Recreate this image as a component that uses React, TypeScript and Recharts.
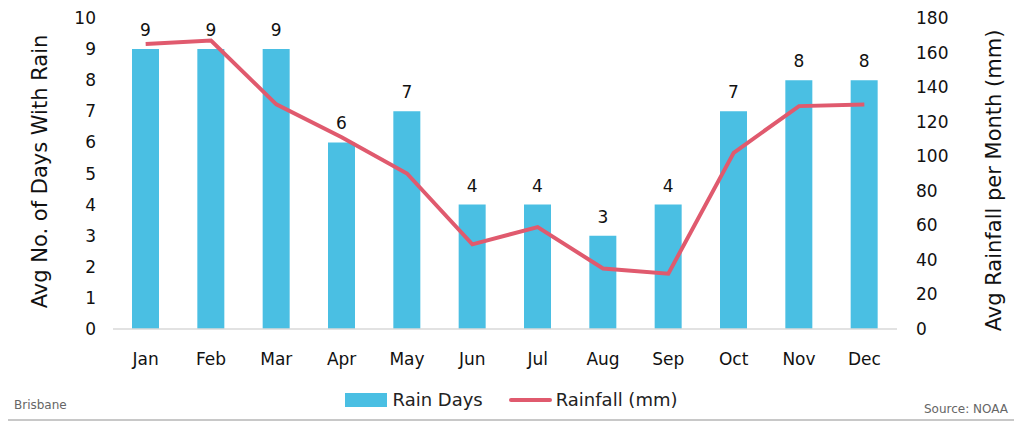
import React from 'react';
import { ComposedChart, Bar, Line, XAxis, YAxis, Legend, LabelList } from 'recharts';

const months = ['Jan', 'Feb', 'Mar', 'Apr', 'May', 'Jun', 'Jul', 'Aug', 'Sep', 'Oct', 'Nov', 'Dec'];
const rainDays = [9, 9, 9, 6, 7, 4, 4, 3, 4, 7, 8, 8];
const rainfallMm = [165, 167, 130, 111, 90, 49, 59, 35, 32, 102, 129, 130];
const leftTicks = [0, 1, 2, 3, 4, 5, 6, 7, 8, 9, 10];
const rightTicks = [0, 20, 40, 60, 80, 100, 120, 140, 160, 180];

const BLUE = '#4abfe3';
const RED = '#e05a6e';
const FONT = '"DejaVu Sans", Inter, sans-serif';

const data = months.map((m, i) => ({ month: m, days: rainDays[i], rain: rainfallMm[i] }));

const LegendContent = () => (
    <div style={{ display: 'flex', justifyContent: 'center', alignItems: 'center', fontFamily: FONT, fontSize: 18, color: '#222' }}>
        <span style={{ display: 'inline-block', width: 42, height: 14, background: BLUE, marginRight: 6 }} />
        <span style={{ marginRight: 26 }}>Rain Days</span>
        <span style={{ display: 'inline-block', width: 43, height: 4, borderRadius: 2, background: RED, marginRight: 4 }} />
        <span>Rainfall (mm)</span>
    </div>
);

export default function App() {
    return (
        <div style={{ position: 'relative', marginLeft: -8, marginTop: -8, width: 1022, height: 425, background: '#fff' }}>
            <ComposedChart width={1022} height={425} data={data} margin={{ top: 18, right: 0, left: 0, bottom: 36 }}>
                <XAxis
                    dataKey="month"
                    tickLine={false}
                    axisLine={{ stroke: '#d9d9d9', strokeWidth: 1.5 }}
                    tick={{ fill: '#111', fontSize: 17, fontFamily: FONT }}
                    tickMargin={18}
                    height={30}
                    interval={0}
                />
                <YAxis
                    yAxisId="days"
                    domain={[0, 10]}
                    ticks={leftTicks}
                    width={113}
                    axisLine={false}
                    tickLine={false}
                    tickSize={0}
                    tickMargin={17}
                    tick={{ fill: '#111', fontSize: 17, fontFamily: FONT }}
                    label={{ value: 'Avg No. of Days With Rain', angle: -90, position: 'center', dx: -17, dy: -2, fill: '#111', fontSize: 21, fontFamily: FONT }}
                />
                <YAxis
                    yAxisId="mm"
                    orientation="right"
                    domain={[0, 180]}
                    ticks={rightTicks}
                    width={125}
                    axisLine={false}
                    tickLine={false}
                    tickSize={0}
                    tickMargin={19}
                    tick={{ fill: '#111', fontSize: 17, fontFamily: FONT }}
                    label={{ value: 'Avg Rainfall per Month (mm)', angle: -90, position: 'center', dx: 34, dy: 7, fill: '#111', fontSize: 21, fontFamily: FONT }}
                />
                <Legend
                    content={<LegendContent />}
                    height={30}
                    wrapperStyle={{ top: 389, left: 0, bottom: 'auto', width: 1022 }}
                />
                <Bar yAxisId="days" dataKey="days" name="Rain Days" fill={BLUE} barSize={27} isAnimationActive={false}>
                    <LabelList dataKey="days" position="top" offset={13} style={{ fill: '#111', fontSize: 17, fontFamily: FONT }} />
                </Bar>
                <Line
                    yAxisId="mm"
                    dataKey="rain"
                    name="Rainfall (mm)"
                    type="linear"
                    stroke={RED}
                    strokeWidth={4}
                    dot={false}
                    activeDot={false}
                    isAnimationActive={false}
                />
            </ComposedChart>
            <div style={{ position: 'absolute', left: 14, top: 397, fontFamily: FONT, fontSize: 12, lineHeight: '16px', color: '#666' }}>Brisbane</div>
            <div style={{ position: 'absolute', right: 14, top: 401, fontFamily: FONT, fontSize: 12, lineHeight: '16px', color: '#666' }}>Source: NOAA</div>
            <div style={{ position: 'absolute', left: 1, top: 1, width: 1019, height: 420, border: '2px solid #c8c8c8', boxSizing: 'border-box', pointerEvents: 'none', zIndex: 5 }} />
        </div>
    );
}
